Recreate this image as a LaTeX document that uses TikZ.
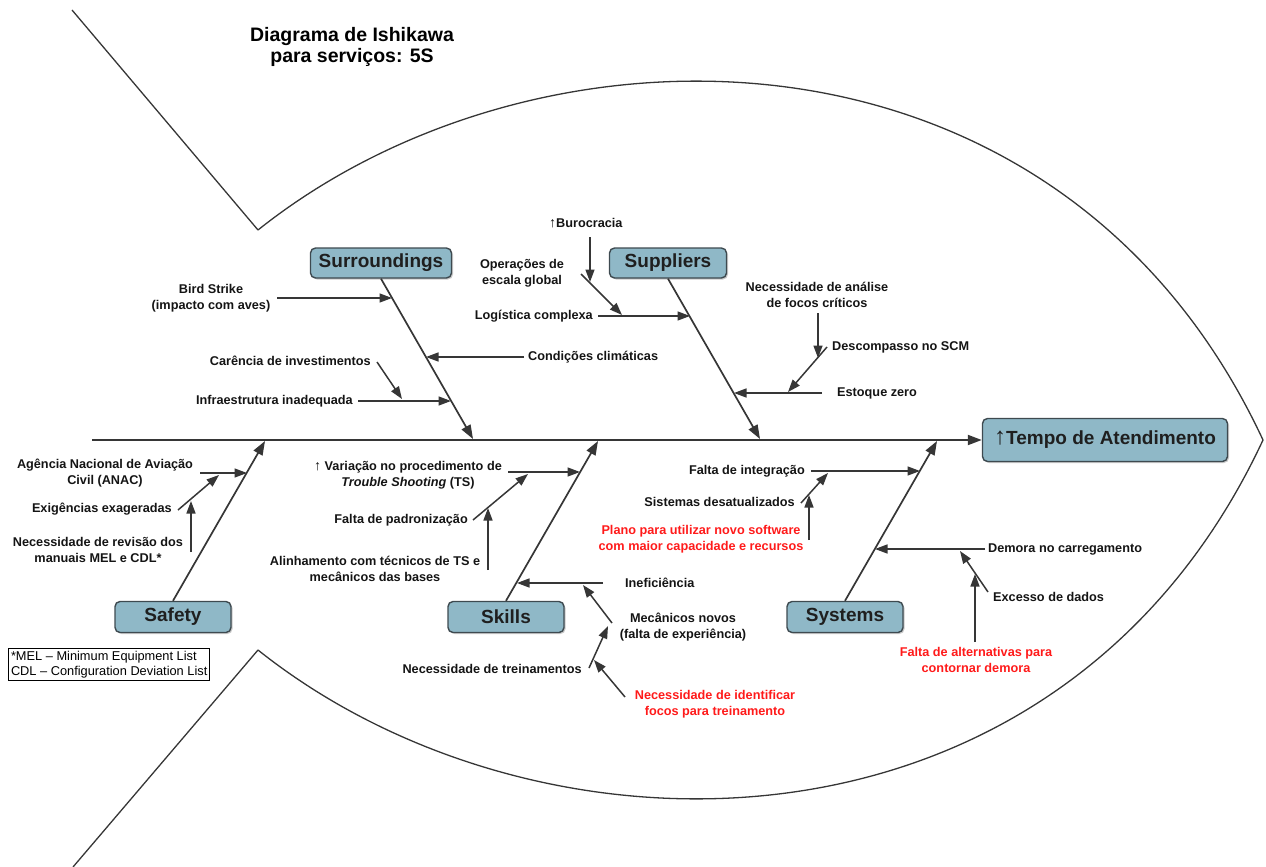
\documentclass[tikz,border=0pt]{standalone}
\usepackage{fontspec}
\setmainfont{Liberation Sans}
\usetikzlibrary{arrows.meta,shadows}

\definecolor{ink}{HTML}{363636}
\definecolor{boxfill}{HTML}{8FB8C7}
\definecolor{boxline}{HTML}{3E4A50}
\definecolor{redtxt}{HTML}{FF1A1A}

\newcommand{\uparr}[1][14]{{\mdseries\fontsize{#1}{#1}\selectfont ↑}}

\tikzset{
  lbl/.style={font=\bfseries\fontsize{12.7}{15.5}\selectfont, text=black!92, inner sep=0pt, align=center},
  redlbl/.style={lbl, text=redtxt},
  cat/.style={draw=boxline, fill=boxfill, line width=1.4pt, rounded corners=5pt,
    font=\bfseries\fontsize{19}{22}\selectfont, text=black!88, minimum height=30pt, inner sep=0pt,
    drop shadow={shadow xshift=1.5pt, shadow yshift=-1.5pt, opacity=0.35, fill=black!60}},
  bone/.style={draw=ink, line width=1.7pt, -{Triangle[length=14pt,width=10pt]}},
  twig/.style={draw=ink, line width=1.5pt, -{Triangle[length=12.5pt,width=9pt]}},
  fish/.style={draw=ink, line width=1.3pt, line join=round},
}

\begin{document}
\begin{tikzpicture}[x=1pt, y=-1pt]
\useasboundingbox (0,0) rectangle (1266,867);

% fish outline
\draw[fish] (72,10) -- (258,230) .. controls (540,5) and (1060,5) .. (1263,440)
  .. controls (1060,875) and (540,875) .. (258,650) -- (73,867);

% title
\node[font=\bfseries\fontsize{19.5}{21}\selectfont, align=center] (title) at (352,47)
  {Diagrama de Ishikawa\\para serviços: 5S};

% head and category boxes
\node[cat, minimum width=245pt, minimum height=43pt] (head) at (1105,440)
  {\uparr[24]Tempo de Atendimento};
\node[cat, minimum width=141pt] (sur) at (381,263) {Surroundings};
\node[cat, minimum width=117pt] (sup) at (668,263) {Suppliers};
\node[cat, minimum width=116pt, minimum height=31pt] (saf) at (173,617) {Safety};
\node[cat, minimum width=116pt, minimum height=31pt] (ski) at (506,617) {Skills};
\node[cat, minimum width=116pt, minimum height=31pt] (sys) at (845,617) {Systems};

% spine
\coordinate (tail) at (92,440);
\draw[bone, line width=2pt] (tail) -- (head.west);

% points where the bones meet the spine
\coordinate (surtip) at (473,439);
\coordinate (suptip) at (760,439);
\coordinate (saftip) at (265,441);
\coordinate (skitip) at (598,441);
\coordinate (systip) at (937,441);
\draw[bone] (sur.south) -- (surtip);
\draw[bone] (sup.south) -- (suptip);
\draw[bone] (saf.north) -- (saftip);
\draw[bone] (ski.north) -- (skitip);
\draw[bone] (sys.north) -- (systip);

% ---------- Surroundings ----------
\node[lbl] (bird) at (211,298) {Bird Strike\\(impacto com aves)};
\node[lbl, anchor=west] (clima) at (528,357) {Condições climáticas};
\node[lbl, anchor=east] (inv) at (371,361) {Carência de investimentos};
\node[lbl, anchor=east] (infra) at (353,401) {Infraestrutura inadequada};
\coordinate (bird0) at (277,298);  \coordinate (bird1) at (392,298);
\coordinate (clima0) at (524,357); \coordinate (clima1) at (426,357);
\coordinate (inv0) at (377,362);   \coordinate (inv1) at (402,399);
\coordinate (infra0) at (358,401); \coordinate (infra1) at (451,401);
\draw[twig] (bird0) -- (bird1);
\draw[twig] (clima0) -- (clima1);
\draw[twig] (inv0) -- (inv1);
\draw[twig] (infra0) -- (infra1);

% ---------- Suppliers ----------
\node[lbl, anchor=west] (buro) at (549,223) {\uparr Burocracia};
\node[lbl] (oper) at (522,273) {Operações de\\escala global};
\node[lbl, anchor=east] (logi) at (593,316) {Logística complexa};
\node[lbl] (focos) at (817,295) {Necessidade de análise\\de focos críticos};
\node[lbl, anchor=west] (scm) at (832,347) {Descompasso no SCM};
\node[lbl, anchor=west] (estq) at (837,393) {Estoque zero};
\coordinate (buro0) at (590,237); \coordinate (buro1) at (590,282);
\coordinate (oper0) at (581,274); \coordinate (oper1) at (622,315);
\coordinate (logi0) at (598,316); \coordinate (logi1) at (690,316);
\coordinate (focos0) at (818,313); \coordinate (focos1) at (818,358);
\coordinate (scm0) at (827,347);  \coordinate (scm1) at (788,392);
\coordinate (estq0) at (822,393); \coordinate (estq1) at (734,393);
\draw[twig] (buro0) -- (buro1);
\draw[twig] (oper0) -- (oper1);
\draw[twig] (logi0) -- (logi1);
\draw[twig] (focos0) -- (focos1);
\draw[twig] (scm0) -- (scm1);
\draw[twig] (estq0) -- (estq1);

% ---------- Safety ----------
\node[lbl] (anac) at (105,473) {Agência Nacional de Aviação\\Civil (ANAC)};
\node[lbl, anchor=east] (exig) at (172,509) {Exigências exageradas};
\node[lbl] (rev) at (98,550) {Necessidade de revisão dos\\manuais MEL e CDL*};
\coordinate (anac0) at (200,473); \coordinate (anac1) at (247,473);
\coordinate (exig0) at (178,510); \coordinate (exig1) at (219,475);
\coordinate (rev0) at (191,552);  \coordinate (rev1) at (191,501);
\draw[twig] (anac0) -- (anac1);
\draw[twig] (exig0) -- (exig1);
\draw[twig] (rev0) -- (rev1);

\node[draw=black, line width=1pt, align=left, anchor=north west, inner sep=2.5pt,
  font=\fontsize{12.8}{15}\selectfont] (legend) at (8,648)
  {*MEL – Minimum Equipment List\\CDL – Configuration Deviation List};

% ---------- Skills ----------
\node[lbl] (var) at (408,475) {\uparr\ Variação no procedimento de\\\textit{Trouble Shooting} (TS)};
\node[lbl, anchor=east] (pad) at (468,520) {Falta de padronização};
\node[lbl] (alin) at (375,569) {Alinhamento com técnicos de TS e\\mecânicos das bases};
\node[lbl, anchor=west] (inef) at (625,583) {Ineficiência};
\node[lbl] (mec) at (683,627) {Mecânicos novos\\(falta de experiência)};
\node[lbl, anchor=east] (trein) at (582,669) {Necessidade de treinamentos};
\node[redlbl] (ident) at (715,704) {Necessidade de identificar\\focos para treinamento};
\coordinate (var0) at (508,472);   \coordinate (var1) at (580,472);
\coordinate (pad0) at (473,520);   \coordinate (pad1) at (528,474);
\coordinate (alin0) at (488,570);  \coordinate (alin1) at (488,508);
\coordinate (inef0) at (603,583);  \coordinate (inef1) at (517,583);
\coordinate (mec0) at (612,623);   \coordinate (mec1) at (583,585);
\coordinate (trein0) at (589,668); \coordinate (trein1) at (608,626);
\coordinate (ident0) at (625,697); \coordinate (ident1) at (594,660);
\draw[twig] (var0) -- (var1);
\draw[twig] (pad0) -- (pad1);
\draw[twig] (alin0) -- (alin1);
\draw[twig] (inef0) -- (inef1);
\draw[twig] (mec0) -- (mec1);
\draw[twig] (trein0) -- (trein1);
\draw[twig] (ident0) -- (ident1);

% ---------- Systems ----------
\node[lbl, anchor=east] (integ) at (805,471) {Falta de integração};
\node[lbl, anchor=east] (desat) at (795,502) {Sistemas desatualizados};
\node[redlbl] (plano) at (701,539) {Plano para utilizar novo software\\com maior capacidade e recursos};
\node[lbl, anchor=west] (demora) at (988,549) {Demora no carregamento};
\node[lbl, anchor=west] (exc) at (993,597) {Excesso de dados};
\node[redlbl] (alt) at (976,660) {Falta de alternativas para\\contornar demora};
\coordinate (integ0) at (811,471); \coordinate (integ1) at (920,471);
\coordinate (desat0) at (801,503); \coordinate (desat1) at (828,473);
\coordinate (plano0) at (809,540); \coordinate (plano1) at (809,495);
\coordinate (demora0) at (985,549); \coordinate (demora1) at (875,549);
\coordinate (exc0) at (988,592);   \coordinate (exc1) at (960,551);
\coordinate (alt0) at (975,642);   \coordinate (alt1) at (975,574);
\draw[twig] (integ0) -- (integ1);
\draw[twig] (desat0) -- (desat1);
\draw[twig] (plano0) -- (plano1);
\draw[twig] (demora0) -- (demora1);
\draw[twig] (exc0) -- (exc1);
\draw[twig] (alt0) -- (alt1);
\end{tikzpicture}
\end{document}
